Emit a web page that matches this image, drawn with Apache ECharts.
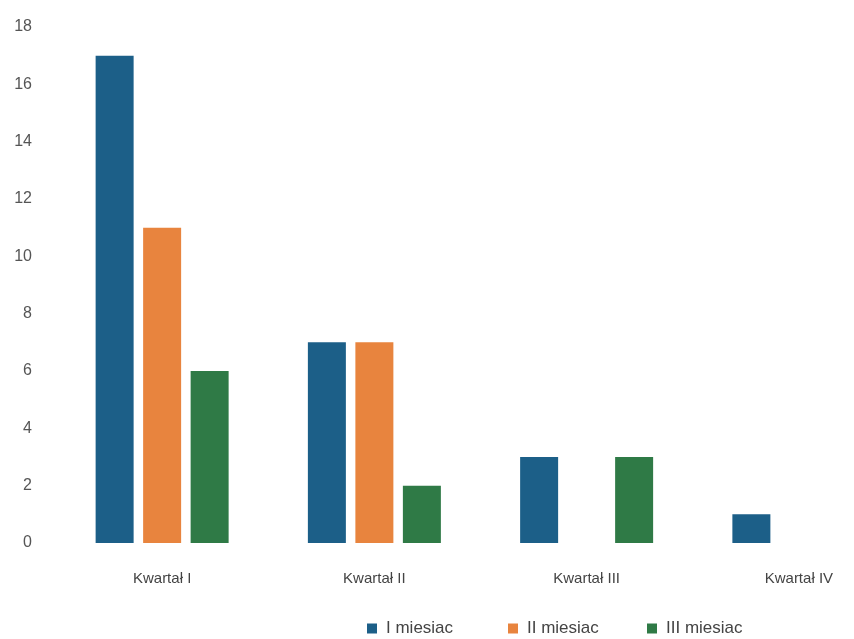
<!DOCTYPE html>
<html>
<head>
<meta charset="utf-8">
<script src="https://cdn.jsdelivr.net/npm/echarts@6/dist/echarts.min.js"></script>
<style>html,body{margin:0;padding:0;background:#fff;overflow:hidden;width:854px;height:639px;}#c{width:910px;height:639px;}</style>
</head>
<body>
<div id="c"></div>
<script>
var categories = ['Kwartał I', 'Kwartał II', 'Kwartał III', 'Kwartał IV'];
var seriesNames = ['I miesiac', 'II miesiac', 'III miesiac'];
var month1 = [17, 7, 3, 1];
var month2 = [11, 7, null, null];
var month3 = [6, 2, 3, null];
var yTicks = [0, 2, 4, 6, 8, 10, 12, 14, 16, 18];
var colors = ['#1c5f88', '#e8843e', '#2f7a46'];

var chart = echarts.init(document.getElementById('c'), null, {renderer: 'canvas'});
var font = 'Liberation Sans, Arial, sans-serif';
var legendLefts = [367, 508, 647];
var legends = seriesNames.map(function (n, i) {
  return {
    top: 620, left: legendLefts[i], padding: 0,
    itemWidth: 10, itemHeight: 10, itemGap: 0,
    icon: 'rect',
    textStyle: {fontFamily: font, fontSize: 17, color: '#444', padding: [0, 0, 0, 4]},
    data: [n]
  };
});
chart.setOption({
  animation: false,
  color: colors,
  grid: {left: 56, top: 27, right: 5, height: 516, containLabel: false},
  legend: legends,
  xAxis: {
    type: 'category', data: categories,
    axisLine: {show: false}, axisTick: {show: false},
    axisLabel: {fontFamily: font, fontSize: 15, color: '#444', margin: 28}
  },
  yAxis: {
    type: 'value', min: yTicks[0], max: yTicks[yTicks.length - 1], interval: 2,
    axisLine: {show: false}, axisTick: {show: false}, splitLine: {show: false},
    axisLabel: {fontFamily: font, fontSize: 16, color: '#555', margin: 24}
  },
  series: [
    {name: seriesNames[0], type: 'bar', data: month1, barWidth: 38, barGap: '25%'},
    {name: seriesNames[1], type: 'bar', data: month2, barWidth: 38, barGap: '25%'},
    {name: seriesNames[2], type: 'bar', data: month3, barWidth: 38, barGap: '25%'}
  ]
});
</script>
</body>
</html>
